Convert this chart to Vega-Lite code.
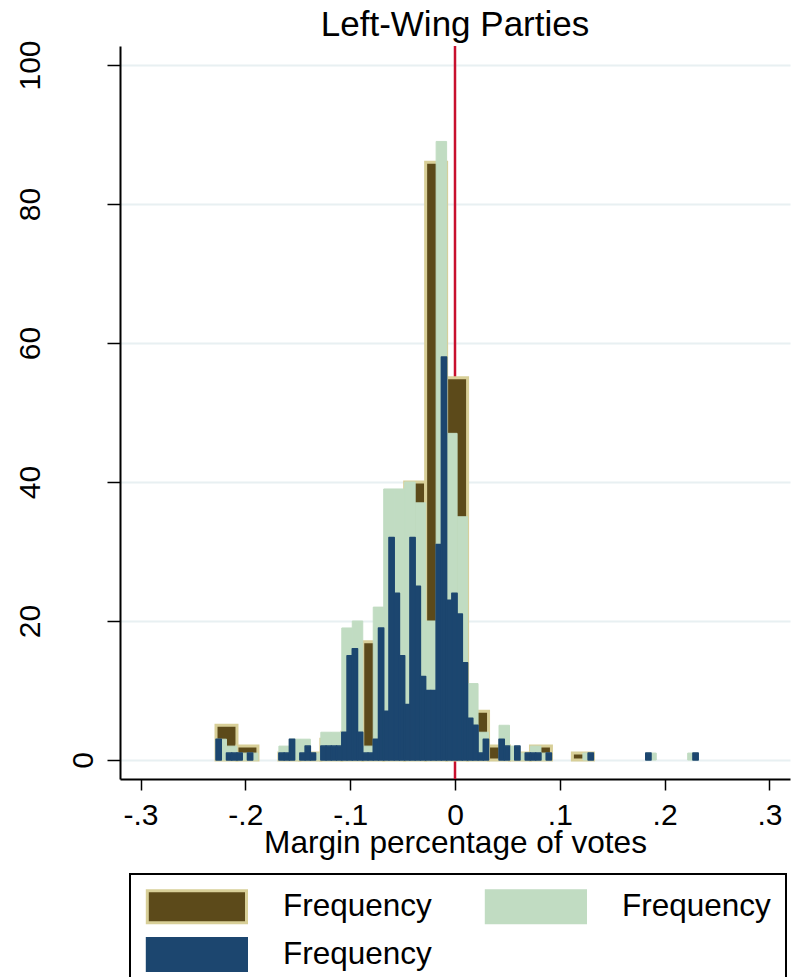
{
  "$schema": "https://vega.github.io/schema/vega-lite/v6.json",
  "width": 670,
  "height": 733,
  "autosize": "none",
  "padding": {"left": 120, "top": 46, "right": 2, "bottom": 198},
  "background": "white",
  "config": {
    "font": "Liberation Sans",
    "view": {"stroke": null},
    "legend": {
      "orient": "none",
      "legendX": 10,
      "legendY": 828,
      "columns": 2,
      "direction": "horizontal",
      "title": null,
      "symbolType": "M-0.95,-1H5.25V1H-0.95Z",
      "symbolSize": 1024,
      "symbolStrokeWidth": 3,
      "symbolOpacity": 1,
      "labelFont": "Liberation Sans",
      "labelFontSize": 31.5,
      "labelColor": "black",
      "labelOffset": 103,
      "labelLimit": 400,
      "columnPadding": 48,
      "rowPadding": 3,
      "padding": 15,
      "strokeColor": "black",
      "strokeWidth": 2,
      "fillColor": "white"
    }
  },
  "title": {
    "text": "Left-Wing Parties",
    "fontSize": 35,
    "fontWeight": "normal",
    "color": "black",
    "anchor": "middle",
    "offset": -3
  },
  "datasets": {
    "bins": [
      {"series": "Frequency, width .02", "start": -0.228, "end": -0.208, "count": 5},
      {"series": "Frequency, width .02", "start": -0.208, "end": -0.188, "count": 2},
      {"series": "Frequency, width .02", "start": -0.168, "end": -0.148, "count": 1},
      {"series": "Frequency, width .02", "start": -0.148, "end": -0.128, "count": 1},
      {"series": "Frequency, width .02", "start": -0.128, "end": -0.108, "count": 3},
      {"series": "Frequency, width .02", "start": -0.108, "end": -0.088, "count": 4},
      {"series": "Frequency, width .02", "start": -0.088, "end": -0.068, "count": 17},
      {"series": "Frequency, width .02", "start": -0.068, "end": -0.048, "count": 20},
      {"series": "Frequency, width .02", "start": -0.048, "end": -0.028, "count": 40},
      {"series": "Frequency, width .02", "start": -0.028, "end": -0.008, "count": 86},
      {"series": "Frequency, width .02", "start": -0.008, "end": 0.012, "count": 55},
      {"series": "Frequency, width .02", "start": 0.012, "end": 0.032, "count": 7},
      {"series": "Frequency, width .02", "start": 0.032, "end": 0.052, "count": 2},
      {"series": "Frequency, width .02", "start": 0.052, "end": 0.072, "count": 1},
      {"series": "Frequency, width .02", "start": 0.072, "end": 0.092, "count": 2},
      {"series": "Frequency, width .02", "start": 0.112, "end": 0.132, "count": 1},

      {"series": "Frequency, width .01", "start": -0.228, "end": -0.218, "count": 3},
      {"series": "Frequency, width .01", "start": -0.218, "end": -0.208, "count": 2},
      {"series": "Frequency, width .01", "start": -0.208, "end": -0.198, "count": 1},
      {"series": "Frequency, width .01", "start": -0.198, "end": -0.188, "count": 1},
      {"series": "Frequency, width .01", "start": -0.168, "end": -0.158, "count": 2},
      {"series": "Frequency, width .01", "start": -0.158, "end": -0.148, "count": 3},
      {"series": "Frequency, width .01", "start": -0.148, "end": -0.138, "count": 3},
      {"series": "Frequency, width .01", "start": -0.138, "end": -0.128, "count": 1},
      {"series": "Frequency, width .01", "start": -0.128, "end": -0.118, "count": 4},
      {"series": "Frequency, width .01", "start": -0.118, "end": -0.108, "count": 4},
      {"series": "Frequency, width .01", "start": -0.108, "end": -0.098, "count": 19},
      {"series": "Frequency, width .01", "start": -0.098, "end": -0.088, "count": 20},
      {"series": "Frequency, width .01", "start": -0.088, "end": -0.078, "count": 2},
      {"series": "Frequency, width .01", "start": -0.078, "end": -0.068, "count": 22},
      {"series": "Frequency, width .01", "start": -0.068, "end": -0.058, "count": 39},
      {"series": "Frequency, width .01", "start": -0.058, "end": -0.048, "count": 39},
      {"series": "Frequency, width .01", "start": -0.048, "end": -0.038, "count": 40},
      {"series": "Frequency, width .01", "start": -0.038, "end": -0.028, "count": 37},
      {"series": "Frequency, width .01", "start": -0.028, "end": -0.018, "count": 20},
      {"series": "Frequency, width .01", "start": -0.018, "end": -0.008, "count": 89},
      {"series": "Frequency, width .01", "start": -0.008, "end": 0.002, "count": 47},
      {"series": "Frequency, width .01", "start": 0.002, "end": 0.012, "count": 35},
      {"series": "Frequency, width .01", "start": 0.012, "end": 0.022, "count": 11},
      {"series": "Frequency, width .01", "start": 0.022, "end": 0.032, "count": 4},
      {"series": "Frequency, width .01", "start": 0.042, "end": 0.052, "count": 5},
      {"series": "Frequency, width .01", "start": 0.052, "end": 0.062, "count": 2},
      {"series": "Frequency, width .01", "start": 0.062, "end": 0.072, "count": 1},
      {"series": "Frequency, width .01", "start": 0.072, "end": 0.082, "count": 2},
      {"series": "Frequency, width .01", "start": 0.082, "end": 0.092, "count": 1},
      {"series": "Frequency, width .01", "start": 0.122, "end": 0.132, "count": 1},
      {"series": "Frequency, width .01", "start": 0.182, "end": 0.192, "count": 1},
      {"series": "Frequency, width .01", "start": 0.222, "end": 0.232, "count": 1},

      {"series": "Frequency, width .005", "start": -0.228, "end": -0.223, "count": 3},
      {"series": "Frequency, width .005", "start": -0.218, "end": -0.213, "count": 1},
      {"series": "Frequency, width .005", "start": -0.213, "end": -0.208, "count": 1},
      {"series": "Frequency, width .005", "start": -0.208, "end": -0.203, "count": 1},
      {"series": "Frequency, width .005", "start": -0.198, "end": -0.193, "count": 1},
      {"series": "Frequency, width .005", "start": -0.168, "end": -0.163, "count": 1},
      {"series": "Frequency, width .005", "start": -0.163, "end": -0.158, "count": 1},
      {"series": "Frequency, width .005", "start": -0.158, "end": -0.153, "count": 3},
      {"series": "Frequency, width .005", "start": -0.148, "end": -0.143, "count": 1},
      {"series": "Frequency, width .005", "start": -0.143, "end": -0.138, "count": 2},
      {"series": "Frequency, width .005", "start": -0.138, "end": -0.133, "count": 1},
      {"series": "Frequency, width .005", "start": -0.128, "end": -0.123, "count": 2},
      {"series": "Frequency, width .005", "start": -0.123, "end": -0.118, "count": 2},
      {"series": "Frequency, width .005", "start": -0.118, "end": -0.113, "count": 2},
      {"series": "Frequency, width .005", "start": -0.113, "end": -0.108, "count": 2},
      {"series": "Frequency, width .005", "start": -0.108, "end": -0.103, "count": 4},
      {"series": "Frequency, width .005", "start": -0.103, "end": -0.098, "count": 15},
      {"series": "Frequency, width .005", "start": -0.098, "end": -0.093, "count": 16},
      {"series": "Frequency, width .005", "start": -0.093, "end": -0.088, "count": 4},
      {"series": "Frequency, width .005", "start": -0.088, "end": -0.083, "count": 1},
      {"series": "Frequency, width .005", "start": -0.083, "end": -0.078, "count": 1},
      {"series": "Frequency, width .005", "start": -0.078, "end": -0.073, "count": 3},
      {"series": "Frequency, width .005", "start": -0.073, "end": -0.068, "count": 19},
      {"series": "Frequency, width .005", "start": -0.068, "end": -0.063, "count": 7},
      {"series": "Frequency, width .005", "start": -0.063, "end": -0.058, "count": 32},
      {"series": "Frequency, width .005", "start": -0.058, "end": -0.053, "count": 24},
      {"series": "Frequency, width .005", "start": -0.053, "end": -0.048, "count": 15},
      {"series": "Frequency, width .005", "start": -0.048, "end": -0.043, "count": 8},
      {"series": "Frequency, width .005", "start": -0.043, "end": -0.038, "count": 32},
      {"series": "Frequency, width .005", "start": -0.038, "end": -0.033, "count": 25},
      {"series": "Frequency, width .005", "start": -0.033, "end": -0.028, "count": 12},
      {"series": "Frequency, width .005", "start": -0.028, "end": -0.023, "count": 10},
      {"series": "Frequency, width .005", "start": -0.023, "end": -0.018, "count": 10},
      {"series": "Frequency, width .005", "start": -0.018, "end": -0.013, "count": 31},
      {"series": "Frequency, width .005", "start": -0.013, "end": -0.008, "count": 58},
      {"series": "Frequency, width .005", "start": -0.008, "end": -0.003, "count": 23},
      {"series": "Frequency, width .005", "start": -0.003, "end": 0.002, "count": 24},
      {"series": "Frequency, width .005", "start": 0.002, "end": 0.007, "count": 21},
      {"series": "Frequency, width .005", "start": 0.007, "end": 0.012, "count": 14},
      {"series": "Frequency, width .005", "start": 0.012, "end": 0.017, "count": 6},
      {"series": "Frequency, width .005", "start": 0.017, "end": 0.022, "count": 5},
      {"series": "Frequency, width .005", "start": 0.022, "end": 0.027, "count": 1},
      {"series": "Frequency, width .005", "start": 0.027, "end": 0.032, "count": 3},
      {"series": "Frequency, width .005", "start": 0.042, "end": 0.047, "count": 3},
      {"series": "Frequency, width .005", "start": 0.047, "end": 0.052, "count": 2},
      {"series": "Frequency, width .005", "start": 0.057, "end": 0.062, "count": 2},
      {"series": "Frequency, width .005", "start": 0.067, "end": 0.072, "count": 1},
      {"series": "Frequency, width .005", "start": 0.072, "end": 0.077, "count": 1},
      {"series": "Frequency, width .005", "start": 0.077, "end": 0.082, "count": 1},
      {"series": "Frequency, width .005", "start": 0.087, "end": 0.092, "count": 1},
      {"series": "Frequency, width .005", "start": 0.127, "end": 0.132, "count": 1},
      {"series": "Frequency, width .005", "start": 0.182, "end": 0.187, "count": 1},
      {"series": "Frequency, width .005", "start": 0.227, "end": 0.232, "count": 1}
    ]
  },
  "layer": [
    {
      "data": {"values": [{"margin": 0}]},
      "mark": {"type": "rule", "color": "#c8102e", "strokeWidth": 2.5},
      "encoding": {
        "x": {"field": "margin", "type": "quantitative"}
      }
    },
    {
      "data": {"name": "bins"},
      "transform": [{"filter": "datum.series === 'Frequency, width .02'"}],
      "mark": {"type": "rect", "strokeWidth": 3},
      "encoding": {
        "x": {"field": "start", "type": "quantitative"},
        "x2": {"field": "end"},
        "y": {"field": "count", "type": "quantitative"},
        "y2": {"datum": 0},
        "fill": {
          "field": "series", "type": "nominal",
          "scale": {"domain": ["Frequency, width .02", "Frequency, width .01", "Frequency, width .005"], "range": ["#5c4a1a", "#c1dcc2", "#1c466f"]},
          "legend": {"labelExpr": "'Frequency'"}
        },
        "stroke": {
          "field": "series", "type": "nominal",
          "scale": {"domain": ["Frequency, width .02", "Frequency, width .01", "Frequency, width .005"], "range": ["#d8cf98", "#c1dcc2", "#1c466f"]},
          "legend": {"labelExpr": "'Frequency'"}
        }
      }
    },
    {
      "data": {"name": "bins"},
      "transform": [{"filter": "datum.series === 'Frequency, width .01'"}],
      "mark": {"type": "rect", "strokeWidth": 1},
      "encoding": {
        "x": {"field": "start", "type": "quantitative"},
        "x2": {"field": "end"},
        "y": {"field": "count", "type": "quantitative"},
        "y2": {"datum": 0},
        "fill": {"field": "series", "type": "nominal", "legend": {"labelExpr": "'Frequency'"}},
        "stroke": {"field": "series", "type": "nominal", "legend": {"labelExpr": "'Frequency'"}}
      }
    },
    {
      "data": {"name": "bins"},
      "transform": [{"filter": "datum.series === 'Frequency, width .005'"}],
      "mark": {"type": "rect", "strokeWidth": 1.5, "strokeJoin": "round"},
      "encoding": {
        "x": {"field": "start", "type": "quantitative"},
        "x2": {"field": "end"},
        "y": {"field": "count", "type": "quantitative"},
        "y2": {"datum": 0},
        "fill": {"field": "series", "type": "nominal", "legend": {"labelExpr": "'Frequency'"}},
        "stroke": {"field": "series", "type": "nominal", "legend": {"labelExpr": "'Frequency'"}}
      }
    }
  ],
  "resolve": {"scale": {"x": "shared", "y": "shared"}},
  "encoding": {
    "x": {
      "type": "quantitative",
      "scale": {"domain": [-0.3196, 0.3196], "nice": false, "zero": false},
      "axis": {
        "title": "Margin percentage of votes",
        "values": [-0.3, -0.2, -0.1, 0, 0.1, 0.2, 0.3],
        "labelExpr": "datum.value == 0 ? '0' : (datum.value < 0 ? '-' : '') + '.' + round(abs(datum.value) * 10)",
        "grid": false,
        "tickSize": 11,
        "tickWidth": 1.5,
        "tickColor": "black",
        "domainColor": "black",
        "domainWidth": 2,
        "labelFontSize": 30,
        "labelColor": "black",
        "labelPadding": 10,
        "labelFlush": false,
        "labelOverlap": false,
        "titleFontSize": 31.6,
        "titleFontWeight": "normal",
        "titleColor": "black",
        "titlePadding": -3
      }
    },
    "y": {
      "type": "quantitative",
      "scale": {"domain": [-2.73, 102.73], "nice": false, "zero": false},
      "axis": {
        "title": null,
        "values": [0, 20, 40, 60, 80, 100],
        "grid": true,
        "gridColor": "#e8f0f2",
        "gridWidth": 2,
        "tickSize": 13,
        "tickWidth": 1.5,
        "tickColor": "black",
        "domainColor": "black",
        "domainWidth": 2,
        "labelAngle": 270,
        "labelFontSize": 30,
        "labelColor": "black",
        "labelLineHeight": 53,
        "labelBaseline": {"condition": {"test": "datum.value === 0", "value": "line-top"}, "value": "line-bottom"},
        "labelPadding": 50
      }
    }
  }
}
